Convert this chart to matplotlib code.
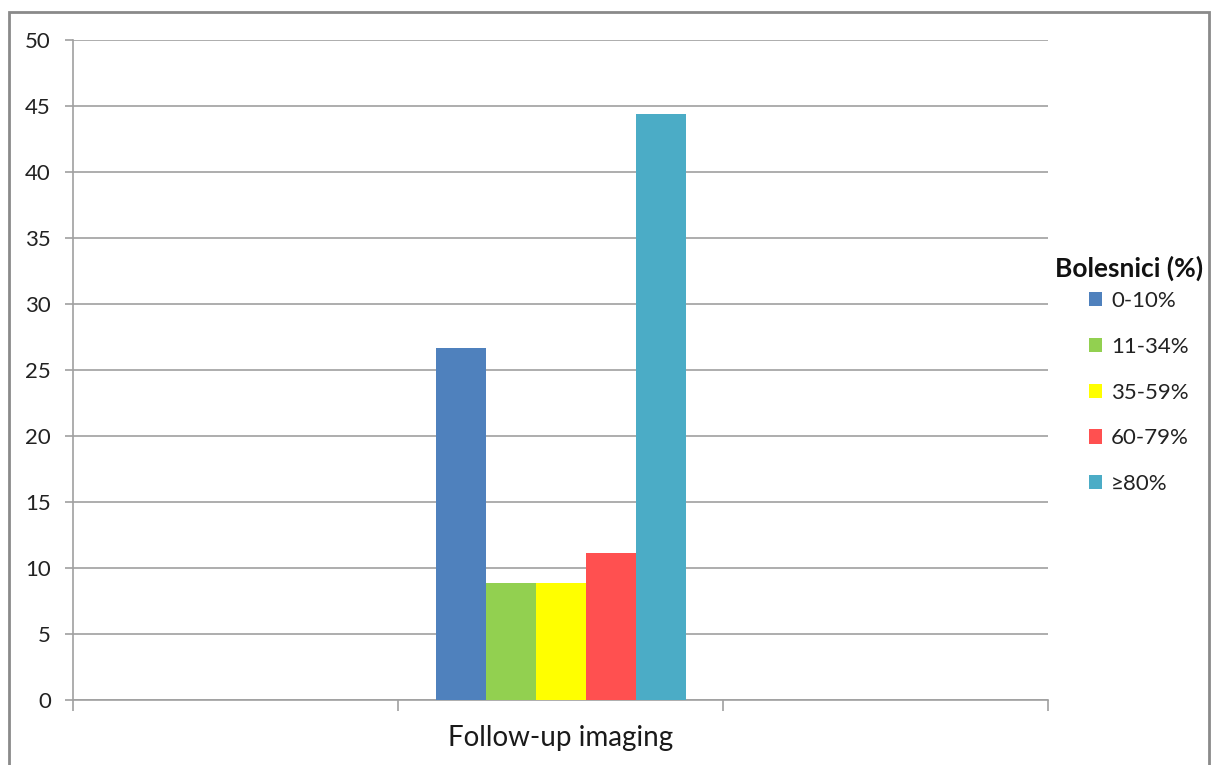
import matplotlib.pyplot as plt
import numpy as np
from matplotlib.patches import Rectangle

plt.rcParams['font.family'] = ['Lato', 'DejaVu Sans']

category = 'Follow-up imaging'
series = ['0-10%', '11-34%', '35-59%', '60-79%', '≥80%']
values = [26.7, 8.9, 8.9, 11.1, 44.4]
colors = ['#4F81BD', '#92D050', '#FFFF00', '#FF5050', '#4BACC6']

fig = plt.figure(figsize=(12.11, 7.65), dpi=100)
ax = fig.add_axes([73 / 1211, 65 / 765, 975 / 1211, 660 / 765])

# one category in the middle of three slots, Excel-style gap width ~150%
width = 1 / 6.5
x0 = 0.0
offsets = (np.arange(len(series)) - (len(series) - 1) / 2) * width
for off, val, lab, col in zip(offsets, values, series, colors):
    ax.bar(x0 + off, val, width=width, color=col, label=lab, zorder=3)

ax.set_xlim(-1.5, 1.5)
ax.set_ylim(0, 50)
ax.set_yticks(np.arange(0, 51, 5))
ax.set_xticks([-1.5, -0.5, 0.5, 1.5])
ax.set_xticklabels([])
ax.set_xticks([x0], minor=True)
ax.set_xticklabels([category], minor=True, fontsize=20, color='#1a1a1a')
ax.tick_params(axis='x', which='minor', length=0, pad=18)
ax.tick_params(axis='x', which='major', length=8, color='#A0A0A0', width=1.2)
ax.tick_params(axis='y', length=6, color='#A0A0A0', width=1.2, labelsize=16,
               pad=10, labelcolor='#222222')

ax.grid(axis='y', color='#A0A0A0', linewidth=1.2, zorder=0)
ax.set_axisbelow(True)
for s in ['top', 'right']:
    ax.spines[s].set_visible(False)
for s in ['left', 'bottom']:
    ax.spines[s].set_color('#A0A0A0')
    ax.spines[s].set_linewidth(1.2)

fig.text(1055 / 1211, 1 - 268 / 765, 'Bolesnici (%)', fontsize=19,
         fontweight='bold', ha='left', va='center', color='#111111')
leg = fig.legend(loc='upper left', bbox_to_anchor=(1089 / 1211, 1 - 291 / 765),
                 frameon=False, fontsize=16,
                 handlelength=0.6, handleheight=0.6, handletextpad=0.4,
                 labelspacing=1.16, borderaxespad=0, borderpad=0)
for t in leg.get_texts():
    t.set_color('#222222')

# outer chart border
fig.patches.append(Rectangle((9 / 1211, -0.05), 1200 / 1211, 1 - 12 / 765 + 0.05,
                             transform=fig.transFigure, fill=False,
                             edgecolor='#8A8A8A', linewidth=2))

fig.savefig('out.png', dpi=100)
